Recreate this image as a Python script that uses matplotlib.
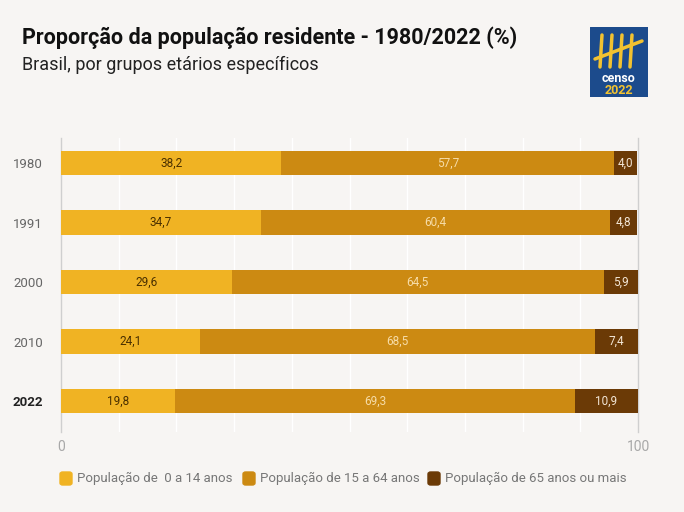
import matplotlib
matplotlib.use("Agg")
import matplotlib.pyplot as plt
from matplotlib.patches import FancyBboxPatch, Rectangle
import numpy as np

plt.rcParams['font.family'] = ['Liberation Sans Narrow', 'Roboto', 'DejaVu Sans']

anos = ['1980', '1991', '2000', '2010', '2022']
jovens = [38.2, 34.7, 29.6, 24.1, 19.8]
adultos = [57.7, 60.4, 64.5, 68.5, 69.3]
idosos = [4.0, 4.8, 5.9, 7.4, 10.9]
series_nomes = ['População de  0 a 14 anos', 'População de 15 a 64 anos', 'População de 65 anos ou mais']

cores = ['#f0b323', '#cc8a12', '#6b3a06']
cores_txt = ['#4a3000', '#f6dca8', '#f3e6d6']
bg = '#f7f5f3'

fig = plt.figure(figsize=(6.84, 5.12), dpi=100, facecolor=bg)
ax = fig.add_axes([61/684, 1-432/512, (638-61)/684, (432-138)/512])
ax.set_facecolor(bg)

y = np.arange(len(anos))
left = np.zeros(len(anos))
for vals, cor, ctxt, nome in zip([jovens, adultos, idosos], cores, cores_txt, series_nomes):
    vals = np.array(vals)
    ax.barh(y, vals, left=left, height=0.405, color=cor, label=nome, zorder=3)
    for yi, l, v in zip(y, left, vals):
        ax.text(l + v/2, yi, f'{v:.1f}'.replace('.', ','), ha='center', va='center',
                fontsize=8.5, color=ctxt, zorder=4)
    left = left + vals

ax.set_xlim(0, 100)
ax.set_ylim(4.52, -0.42)
ax.set_xticks([0, 100])
ax.set_xticklabels(['0', '100'], color='#a8a8a8', fontsize=10)
for xg in range(10, 100, 10):
    ax.axvline(xg, color='white', lw=1, zorder=1)
ax.set_yticks(y)
ax.set_yticklabels(anos, fontsize=9.5, color='#666666')
ax.get_yticklabels()[-1].set_fontweight('bold')
ax.get_yticklabels()[-1].set_color('#222222')
ax.tick_params(length=0, pad=13)
ax.tick_params(axis='x', pad=6)
for s in ['top', 'bottom']:
    ax.spines[s].set_visible(False)
for s in ['left', 'right']:
    ax.spines[s].set_color('#cfcfcf')
    ax.spines[s].set_linewidth(1)

fig.text(22/684, 1-38/512, 'Proporção da população residente - 1980/2022 (%)', fontsize=15.5,
         fontweight='bold', color='#111111', va='center')
fig.text(22/684, 1-65/512, 'Brasil, por grupos etários específicos', fontsize=13,
         color='#222222', va='center')

# legenda
leg_x = [60, 243, 428]
for lx, cor, nome in zip(leg_x, cores, series_nomes):
    fig.patches.append(FancyBboxPatch((lx/684, 1-485/512), 12/684, 13/512,
                                      boxstyle='round,pad=0,rounding_size=0.004',
                                      transform=fig.transFigure, color=cor))
    fig.text((lx+17)/684, 1-478/512, nome, fontsize=9.5, color='#777777', va='center')

# logo
lax = fig.add_axes([590/684, 1-97/512, 58/684, 70/512])
lax.set_xlim(0, 58)
lax.set_ylim(0, 70)
lax.axis('off')
lax.add_patch(Rectangle((0, 0), 58, 70, color='#1c4b8c'))
for xs in [10, 20, 30, 40]:
    lax.plot([xs, xs + 2], [30, 62], color='#f2c230', lw=2.5, solid_capstyle='round')
lax.plot([5, 52], [38, 56], color='#f2c230', lw=2.5, solid_capstyle='round')
lax.text(29, 19, 'censo', color='white', fontsize=9, fontweight='bold', ha='center', va='center')
lax.text(29, 7, '2022', color='#f2c230', fontsize=9, fontweight='bold', ha='center', va='center')

fig.savefig('out.png', dpi=100, facecolor=bg)
